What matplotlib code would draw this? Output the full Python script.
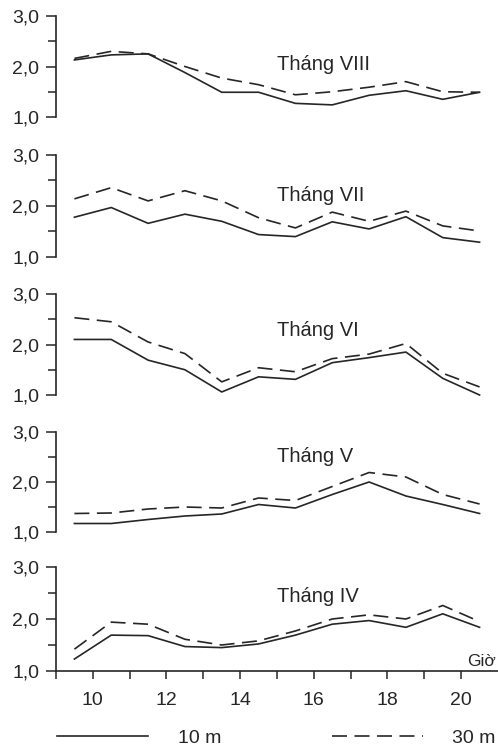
import matplotlib.pyplot as plt
import numpy as np

plt.rcParams['font.family'] = ['Liberation Sans', 'DejaVu Sans']

hours = [9.5, 10.5, 11.5, 12.5, 13.5, 14.5, 15.5, 16.5, 17.5, 18.5, 19.5, 20.5]

months = ['Tháng VIII', 'Tháng VII', 'Tháng VI', 'Tháng V', 'Tháng IV']

depth_10m = [
    [2.13, 2.23, 2.25, 1.88, 1.49, 1.49, 1.27, 1.24, 1.43, 1.52, 1.35, 1.49],
    [1.78, 1.97, 1.66, 1.84, 1.70, 1.44, 1.40, 1.69, 1.55, 1.79, 1.38, 1.29],
    [2.10, 2.10, 1.69, 1.50, 1.06, 1.36, 1.31, 1.64, 1.74, 1.85, 1.33, 1.00],
    [1.17, 1.17, 1.25, 1.32, 1.36, 1.55, 1.48, 1.75, 2.00, 1.72, 1.55, 1.37],
    [1.23, 1.69, 1.68, 1.47, 1.45, 1.52, 1.69, 1.90, 1.97, 1.84, 2.10, 1.84],
]
depth_30m = [
    [2.16, 2.30, 2.25, 2.00, 1.77, 1.64, 1.44, 1.50, 1.59, 1.70, 1.50, 1.49],
    [2.14, 2.36, 2.10, 2.30, 2.10, 1.77, 1.57, 1.88, 1.70, 1.90, 1.61, 1.51],
    [2.53, 2.45, 2.05, 1.82, 1.26, 1.54, 1.46, 1.72, 1.81, 2.02, 1.43, 1.16],
    [1.37, 1.38, 1.46, 1.50, 1.48, 1.68, 1.63, 1.91, 2.19, 2.10, 1.75, 1.56],
    [1.42, 1.94, 1.90, 1.61, 1.50, 1.58, 1.77, 2.00, 2.08, 2.00, 2.26, 1.95],
]
label_y = [2.04, 2.2, 2.28, 2.5, 2.44]

# panel extents in pixels from the top (value 3,0 .. 1,0)
panel_px = [(16, 117), (155, 257), (294, 395), (432, 532), (567, 671)]

W, H = 498, 748
col = '#262626'
fig = plt.figure(figsize=(W / 100, H / 100), dpi=100)

axes = []
for i in range(5):
    top, bot = panel_px[i]
    ax = fig.add_axes([56 / W, 1 - bot / H, 442 / W, (bot - top) / H])
    axes.append(ax)
    l1, = ax.plot(hours, depth_10m[i], color=col, lw=1.2, clip_on=False, label='10 m')
    l2, = ax.plot(hours, depth_30m[i], color=col, lw=1.2, ls=(0, (9, 4.5)),
                  clip_on=False, label='30 m')
    ax.set_xlim(9, 21)
    ax.set_ylim(1, 3)
    ax.set_yticks([1, 2, 3])
    ax.set_yticklabels(['1,0', '2,0', '3,0'])
    ax.set_yticks([1.5, 2.5], minor=True)
    ax.tick_params(axis='y', which='major', length=7, width=1.1, color=col,
                   labelsize=14, labelcolor=col, pad=5)
    ax.tick_params(axis='y', which='minor', length=5.5, width=1.1, color=col)
    ax.spines['left'].set_bounds(1, 3)
    ax.spines['left'].set_color(col)
    ax.spines['left'].set_linewidth(1.2)
    for s in ['top', 'right']:
        ax.spines[s].set_visible(False)
    ax.patch.set_alpha(0)
    ax.text(15.0, label_y[i], months[i], fontsize=14.5, color=col, ha='left', va='center')
    if i < 4:
        ax.spines['bottom'].set_visible(False)
        ax.set_xticks([])
    else:
        ax.spines['bottom'].set_color(col)
        ax.spines['bottom'].set_linewidth(1.2)
        ax.set_xticks(range(10, 21, 2))
        ax.set_xticks(range(9, 21, 2), minor=True)
        ax.tick_params(axis='x', which='both', length=6, width=1.1, color=col,
                       labelsize=14, labelcolor=col, pad=9)
        ax.text(20.95, 1.03, 'Giờ', fontsize=12.5, color=col, ha='right', va='bottom')
        fig.legend(handles=[l1, l2], loc='center left', bbox_to_anchor=(57 / W, 10 / H),
                   ncol=2, frameon=False, fontsize=14, handlelength=4.7,
                   handletextpad=1.5, columnspacing=5.7, borderpad=0, borderaxespad=0,
                   labelcolor=col)

fig.savefig('out.png', dpi=100)
